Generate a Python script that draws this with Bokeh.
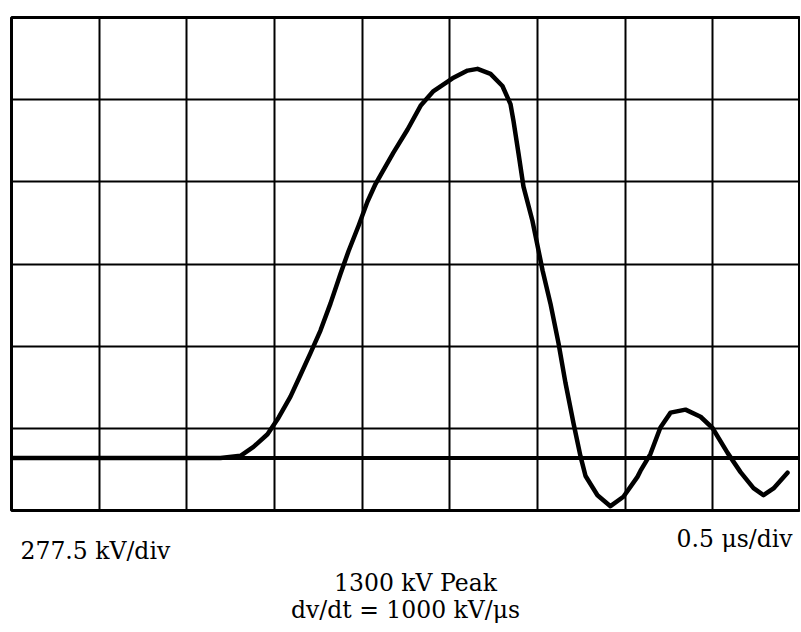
from bokeh.plotting import figure
from bokeh.models import Range1d, FixedTicker, Grid, Span, Label, ColumnDataSource
from bokeh.layouts import column
from bokeh.embed import file_html
from bokeh.resources import INLINE

# Oscilloscope scales
KV_PER_DIV = 277.5
US_PER_DIV = 0.5
N_XDIV = 9
N_YDIV = 6
BASELINE_DIV = 0.64   # zero level, divisions above bottom edge of screen

# Trace: time (us) and voltage (kV)
time_us = [0.0, 1.192, 1.306, 1.380, 1.460, 1.523, 1.591, 1.648, 1.705, 1.762,
           1.819, 1.876, 1.922, 1.980, 2.030, 2.076, 2.105, 2.179, 2.259, 2.333,
           2.407, 2.515, 2.601, 2.658, 2.732, 2.800, 2.846, 2.863, 2.892, 2.920,
           2.971, 3.006, 3.029, 3.074, 3.120, 3.160, 3.205, 3.245, 3.274, 3.342,
           3.416, 3.490, 3.570, 3.587, 3.644, 3.701, 3.759, 3.844, 3.930, 3.998,
           4.084, 4.158, 4.232, 4.289, 4.346, 4.426]
volt_kv = [0, 0, 7, 37, 80, 136, 207, 280, 354, 430,
           521, 621, 698, 785, 865, 925, 955, 1032, 1109, 1189,
           1239, 1282, 1308, 1314, 1297, 1256, 1195, 1138, 1027, 916,
           801, 700, 633, 521, 387, 252, 118, 6, -61, -126,
           -163, -131, -64, -44, 13, 103, 153, 163, 139, 101,
           17, -48, -102, -126, -103, -50]

label_vdiv = "277.5 kV/div"
label_tdiv = "0.5 \u03bcs/div"
label_peak = "1300 kV Peak"
label_slope = "dv/dt = 1000 kV/\u03bcs"

y0 = -BASELINE_DIV * KV_PER_DIV
x_end = N_XDIV * US_PER_DIV
y_end = y0 + N_YDIV * KV_PER_DIV

p = figure(width=800, height=512, output_backend="svg", toolbar_location=None,
           x_range=Range1d(0, x_end), y_range=Range1d(y0, y_end),
           x_axis_location=None, y_axis_location=None,
           min_border_left=11, min_border_right=0, min_border_top=17, min_border_bottom=2)
p.background_fill_color = "white"
p.border_fill_color = "white"
p.outline_line_color = "black"
p.outline_line_width = 3
for g in p.grid:
    g.visible = False

xg = Grid(dimension=0, ticker=FixedTicker(ticks=[US_PER_DIV * k for k in range(1, N_XDIV)]),
          grid_line_color="black", grid_line_width=2)
yg = Grid(dimension=1, ticker=FixedTicker(ticks=[y0 + KV_PER_DIV * k for k in range(1, N_YDIV)]),
          grid_line_color="black", grid_line_width=2)
p.add_layout(xg)
p.add_layout(yg)

p.add_layout(Span(location=0, dimension="width", line_color="black", line_width=4))

src = ColumnDataSource(dict(t=time_us, v=volt_kv))
p.line("t", "v", source=src, line_color="black", line_width=4.5,
       line_join="round", line_cap="round")

# caption area below the screen (frame aligned with the screen frame, units = pixels)
c = figure(width=800, height=118, output_backend="svg", toolbar_location=None,
           x_range=Range1d(11, 800), y_range=Range1d(118, 0),
           x_axis_location=None, y_axis_location=None,
           min_border_left=11, min_border_right=0, min_border_top=0, min_border_bottom=0)
c.outline_line_color = None
c.background_fill_color = "white"
c.border_fill_color = "white"
for g in c.grid:
    g.visible = False

def lab(text, x, y, align):
    return Label(x=x, y=y, text=text, text_font="DejaVu Serif", text_font_size="23.5px",
                 text_color="black", text_align=align, text_baseline="middle")

c.add_layout(lab(label_vdiv, 20, 38, "left"))
c.add_layout(lab(label_tdiv, 792, 26, "right"))
c.add_layout(lab(label_peak, 415, 70, "center"))
c.add_layout(lab(label_slope, 405, 97, "center"))

layout = column(p, c, spacing=0)
open("out.html", "w").write(file_html(layout, INLINE))
